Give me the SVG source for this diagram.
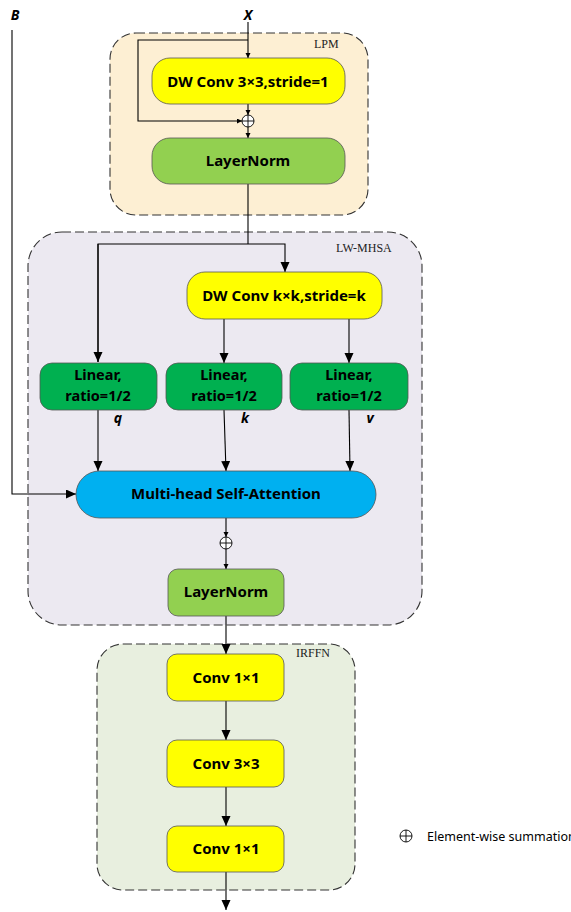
<svg xmlns="http://www.w3.org/2000/svg" width="571" height="912" viewBox="0 0 571 912">
<style>
.cont{stroke:#333;stroke-width:1.1;stroke-dasharray:9,4}
.box{stroke:#555;stroke-width:0.8}
.yel{fill:#FFFF00}
.lgr{fill:#92D050}
.dgr{fill:#00B050}
.blu{fill:#00B0F0}
.t{font-family:"Noto Sans","Open Sans","Liberation Sans",sans-serif;font-weight:bold;font-size:15px;fill:#000;text-anchor:middle}
.t2{font-size:14.5px}
.lab{font-family:"Liberation Serif","DejaVu Serif",serif;font-size:12px;fill:#222}
.var{font-family:"Noto Sans","Liberation Sans",sans-serif;font-weight:bold;font-style:italic;font-size:14px;fill:#000;text-anchor:middle}
.ln{stroke:#000;stroke-width:1.1;fill:none}
.big{marker-end:url(#ab)}
.sm{marker-end:url(#as)}
.sum{fill:#fff;stroke:#000;stroke-width:0.9}
</style>
<defs>
<marker id="ab" markerUnits="userSpaceOnUse" markerWidth="10" markerHeight="10" refX="10" refY="4.5" orient="auto"><path d="M0,0 L10,4.5 L0,9 z" fill="#000"/></marker>
<marker id="as" markerUnits="userSpaceOnUse" markerWidth="6" markerHeight="6" refX="5" refY="2.5" orient="auto"><path d="M0,0 L5,2.5 L0,5 z" fill="#000"/></marker>
<g id="sumsym"><circle cx="0" cy="0" r="6" class="sum"/><path d="M-6,0 H6 M0,-6 V6" stroke="#000" stroke-width="0.9"/></g>
</defs>

<g id="containers">
<g id="lpm"><rect x="110" y="33" width="258" height="182" rx="26" fill="#FDEFD3" class="cont"/><text x="314" y="48" class="lab">LPM</text></g>
<g id="lwmhsa"><rect x="28" y="232" width="394" height="393" rx="34" fill="#ECE9F1" class="cont"/><text x="336" y="252" class="lab">LW-MHSA</text></g>
<g id="irffn"><rect x="97" y="644" width="258" height="246" rx="26" fill="#E8EFDF" class="cont"/><text x="296" y="657" class="lab">IRFFN</text></g>
</g>

<g id="connectors">
<line x1="248" y1="22" x2="248" y2="58" class="ln sm"/>
<polyline points="248,40 138,40 138,121 242,121" class="ln sm"/>
<line x1="248" y1="104" x2="248" y2="115" class="ln sm"/>
<line x1="248" y1="127" x2="248" y2="138" class="ln sm"/>
<line x1="248" y1="184" x2="248" y2="244" class="ln"/>
<polyline points="98,362 98,244 285,244 285,272" class="ln big"/>
<line x1="98" y1="244" x2="98" y2="362" class="ln big"/>
<line x1="224" y1="319" x2="224" y2="363" class="ln big"/>
<line x1="349" y1="319" x2="349" y2="363" class="ln big"/>
<line x1="98" y1="410" x2="98" y2="471" class="ln big"/>
<line x1="224" y1="410" x2="226" y2="471" class="ln big"/>
<line x1="349" y1="410" x2="350" y2="471" class="ln big"/>
<polyline points="12,30 12,494 76,494" class="ln big"/>
<line x1="226" y1="518" x2="226" y2="537" class="ln sm"/>
<line x1="226" y1="549" x2="226" y2="569" class="ln sm"/>
<line x1="226" y1="616" x2="226" y2="654" class="ln big"/>
<line x1="226" y1="701" x2="226" y2="740" class="ln big"/>
<line x1="226" y1="787" x2="226" y2="826" class="ln big"/>
<line x1="226" y1="872" x2="226" y2="910" class="ln big"/>
<use href="#sumsym" x="248" y="121"/>
<use href="#sumsym" x="226" y="543"/>
</g>

<g id="inputs">
<text x="248" y="20" class="var" font-size="15">X</text>
<text x="15" y="20" class="var" font-size="15">B</text>
</g>

<g id="dwconv3"><rect x="152" y="58" width="193" height="46" rx="18" class="box yel"/><text x="248" y="87" class="t">DW Conv 3×3,stride=1</text></g>
<g id="layernorm1"><rect x="152" y="138" width="193" height="46" rx="18" class="box lgr"/><text x="248" y="166" class="t">LayerNorm</text></g>
<g id="dwconvk"><rect x="187" y="272" width="195" height="47" rx="18" class="box yel"/><text x="284" y="301" class="t">DW Conv k×k,stride=k</text></g>
<g id="linq"><rect x="40" y="363" width="117" height="47" rx="12" class="box dgr"/><text x="98" y="380" class="t t2">Linear,</text><text x="98" y="401" class="t t2">ratio=1/2</text></g>
<g id="link"><rect x="166" y="363" width="116" height="47" rx="12" class="box dgr"/><text x="224" y="380" class="t t2">Linear,</text><text x="224" y="401" class="t t2">ratio=1/2</text></g>
<g id="linv"><rect x="290" y="363" width="118" height="47" rx="12" class="box dgr"/><text x="349" y="380" class="t t2">Linear,</text><text x="349" y="401" class="t t2">ratio=1/2</text></g>
<g id="qkv">
<text x="118" y="423" class="var">q</text>
<text x="245" y="423" class="var">k</text>
<text x="370" y="423" class="var">v</text>
</g>
<g id="mhsa"><rect x="76" y="471" width="300" height="47" rx="23.5" class="box blu"/><text x="226" y="499" class="t">Multi-head Self-Attention</text></g>
<g id="layernorm2"><rect x="168" y="569" width="116" height="47" rx="10" class="box lgr"/><text x="226" y="597" class="t">LayerNorm</text></g>
<g id="conv1a"><rect x="167" y="654" width="117" height="47" rx="10" class="box yel"/><text x="226" y="683" class="t">Conv 1×1</text></g>
<g id="conv3"><rect x="167" y="740" width="117" height="47" rx="10" class="box yel"/><text x="226" y="769" class="t">Conv 3×3</text></g>
<g id="conv1b"><rect x="167" y="826" width="117" height="46" rx="10" class="box yel"/><text x="226" y="854" class="t">Conv 1×1</text></g>

<g id="legend">
<use href="#sumsym" x="406" y="836"/>
<text x="427" y="841" font-family="Noto Sans,Open Sans,Liberation Sans,sans-serif" font-size="12.5" fill="#000">Element-wise summation</text>
</g>
</svg>
